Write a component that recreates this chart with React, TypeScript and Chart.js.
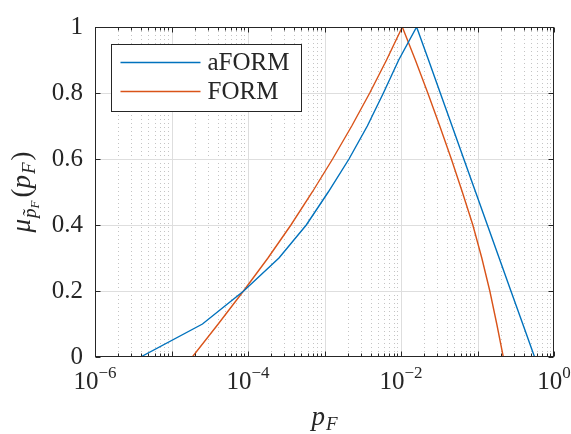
import React, { useEffect, useRef } from "react";
import { Chart, registerables } from "chart.js";

Chart.register(...registerables);

// membership levels (alpha-cuts)
const levelsUp = [0, 0.1, 0.2, 0.3, 0.4, 0.5, 0.6, 0.7, 0.8, 0.9, 1];
const levelsDown = [0.9, 0.8, 0.7, 0.6, 0.5, 0.4, 0.3, 0.2, 0.1, 0];

// aFORM: left (rising) branch and right (falling) branch of p_F
const aformLeft = [3.94e-6, 2.54e-5, 8.77e-5, 2.54e-4, 5.78e-4, 1.12e-3, 2.09e-3, 3.63e-3, 5.89e-3, 9.33e-3, 1.6e-2];
const aformRight = [2.29e-2, 3.26e-2, 4.65e-2, 6.62e-2, 9.44e-2, 0.1346, 0.1919, 0.2735, 0.3908, 0.557];

// FORM
const formLeft = [1.87e-5, 4.08e-5, 8.73e-5, 1.824e-4, 3.64e-4, 6.93e-4, 1.276e-3, 2.27e-3, 3.9e-3, 6.47e-3, 1.04e-2];
const formRight = [1.54e-2, 2.24e-2, 3.21e-2, 4.55e-2, 6.33e-2, 8.69e-2, 0.1138, 0.1449, 0.1786, 0.2173];

const seriesLabels = ["aFORM", "FORM"];
const seriesColors = ["#0072BD", "#D95319"];

// x tick labels: 10^exponent
const xTickValues = [1e-6, 1e-4, 1e-2, 1];
const xTickExponents = ["\u22126", "\u22124", "\u22122", "0"];
const xMin = 1e-6;
const xMax = 1;

const FONT = "'Liberation Serif', 'Times New Roman', serif";
const TEXT = "#262626";

type Run = { t: string; size: number; italic?: boolean; dy?: number; gap?: number };

function runsWidth(ctx: CanvasRenderingContext2D, runs: Run[]) {
  let w = 0;
  for (const r of runs) {
    ctx.font = `${r.italic ? "italic " : ""}${r.size}px ${FONT}`;
    w += ctx.measureText(r.t).width + (r.gap || 0);
  }
  return w;
}

function drawRuns(ctx: CanvasRenderingContext2D, runs: Run[], x: number, y: number) {
  let cx = x;
  for (const r of runs) {
    ctx.font = `${r.italic ? "italic " : ""}${r.size}px ${FONT}`;
    ctx.fillText(r.t, cx, y + (r.dy || 0));
    cx += ctx.measureText(r.t).width + (r.gap || 0);
  }
}

function buildPoints(left: number[], right: number[]) {
  const pts = left.map((v, i) => ({ x: v, y: levelsUp[i] }));
  right.forEach((v, i) => pts.push({ x: v, y: levelsDown[i] }));
  return pts;
}

const decorPlugin = {
  id: "decor",
  beforeDatasetsDraw(chart: any) {
    const { ctx, chartArea: ca, scales } = chart;
    const x = scales.x;
    const y = scales.y;
    ctx.save();
    ctx.lineWidth = 1;
    // minor vertical grid (dotted)
    ctx.strokeStyle = "#c4c4c4";
    ctx.setLineDash([1, 3]);
    const lx = Math.log10(xMin);
    const hx = Math.log10(xMax);
    for (let e = lx; e < hx; e++) {
      for (let m = 2; m <= 9; m++) {
        const px = Math.round(x.getPixelForValue(m * Math.pow(10, e))) + 0.5;
        ctx.beginPath();
        ctx.moveTo(px, ca.top);
        ctx.lineTo(px, ca.bottom);
        ctx.stroke();
      }
    }
    // major grid
    ctx.setLineDash([]);
    ctx.strokeStyle = "#dedede";
    for (let e = lx + 1; e < hx; e++) {
      const px = Math.round(x.getPixelForValue(Math.pow(10, e))) + 0.5;
      ctx.beginPath();
      ctx.moveTo(px, ca.top);
      ctx.lineTo(px, ca.bottom);
      ctx.stroke();
    }
    y.ticks.forEach((t: any) => {
      if (t.value <= y.min || t.value >= y.max) return;
      const py = Math.round(y.getPixelForValue(t.value)) + 0.5;
      ctx.beginPath();
      ctx.moveTo(ca.left, py);
      ctx.lineTo(ca.right, py);
      ctx.stroke();
    });
    ctx.restore();
  },
  afterDatasetsDraw(chart: any) {
    const { ctx, chartArea: ca, scales } = chart;
    const x = scales.x;
    const y = scales.y;
    ctx.save();
    ctx.strokeStyle = TEXT;
    ctx.lineWidth = 1;
    const L = Math.round(ca.left) + 0.5;
    const R = Math.round(ca.right) - 0.5;
    const T = Math.round(ca.top) + 0.5;
    const B = Math.round(ca.bottom) - 0.5;
    // ticks
    ctx.beginPath();
    y.ticks.forEach((t: any) => {
      const py = Math.round(y.getPixelForValue(t.value)) + 0.5;
      ctx.moveTo(L, py);
      ctx.lineTo(L + 5, py);
      ctx.moveTo(R, py);
      ctx.lineTo(R - 5, py);
    });
    const lx = Math.log10(xMin);
    const hx = Math.log10(xMax);
    for (let e = lx; e <= hx; e++) {
      const px = Math.round(x.getPixelForValue(Math.pow(10, e))) + 0.5;
      ctx.moveTo(px, B);
      ctx.lineTo(px, B - 5);
      ctx.moveTo(px, T);
      ctx.lineTo(px, T + 5);
      if (e < hx) {
        for (let m = 2; m <= 9; m++) {
          const mx = Math.round(x.getPixelForValue(m * Math.pow(10, e))) + 0.5;
          ctx.moveTo(mx, B);
          ctx.lineTo(mx, B - 3);
          ctx.moveTo(mx, T);
          ctx.lineTo(mx, T + 3);
        }
      }
    }
    ctx.stroke();
    // box
    ctx.strokeRect(L, T, R - L, B - T);

    // x tick labels
    ctx.fillStyle = TEXT;
    ctx.textBaseline = "alphabetic";
    ctx.textAlign = "left";
    xTickValues.forEach((v, i) => {
      const runs: Run[] = [
        { t: "10", size: 25 },
        { t: xTickExponents[i], size: 17, dy: -11 },
      ];
      const w = runsWidth(ctx, runs);
      const px = x.getPixelForValue(v);
      drawRuns(ctx, runs, px - w / 2, 389);
    });

    // x title p_F
    const xt: Run[] = [
      { t: "p", size: 27, italic: true, gap: 1 },
      { t: "F", size: 19, italic: true, dy: 5 },
    ];
    const xtw = runsWidth(ctx, xt);
    drawRuns(ctx, xt, (ca.left + ca.right) / 2 - xtw / 2, 425);

    // y title mu_{p~_F}(p_F)
    ctx.save();
    ctx.translate(30, (ca.top + ca.bottom) / 2);
    ctx.rotate(-Math.PI / 2);
    const yt: Run[] = [
      { t: "\u03bc", size: 27, italic: true, gap: 1 },
      { t: "p\u0303", size: 19, italic: true, dy: 6 },
      { t: "F", size: 13, italic: true, dy: 9, gap: 3 },
      { t: "(", size: 27 },
      { t: "p", size: 27, italic: true, gap: 1 },
      { t: "F", size: 19, italic: true, dy: 5, gap: 2 },
      { t: ")", size: 27 },
    ];
    const ytw = runsWidth(ctx, yt);
    drawRuns(ctx, yt, -ytw / 2, 0);
    ctx.restore();

    // legend
    const lgL = Math.round(ca.left + 16) + 0.5;
    const lgT = Math.round(ca.top + 17) + 0.5;
    const lgW = 190;
    const lgH = 67;
    ctx.fillStyle = "#ffffff";
    ctx.fillRect(lgL, lgT, lgW, lgH);
    ctx.strokeStyle = TEXT;
    ctx.lineWidth = 1;
    ctx.strokeRect(lgL, lgT, lgW, lgH);
    chart.data.datasets.forEach((ds: any, i: number) => {
      const ly = lgT + 18 + i * 29;
      ctx.strokeStyle = ds.borderColor;
      ctx.lineWidth = 1.4;
      ctx.beginPath();
      ctx.moveTo(lgL + 9, ly);
      ctx.lineTo(lgL + 89, ly);
      ctx.stroke();
      ctx.fillStyle = TEXT;
      ctx.font = `25px ${FONT}`;
      ctx.textBaseline = "middle";
      ctx.fillText(ds.label, lgL + 96, ly + 1);
    });
    ctx.restore();
  },
};

export default function App() {
  const ref = useRef<HTMLCanvasElement | null>(null);
  useEffect(() => {
    if (!ref.current) return;
    const chart = new Chart(ref.current, {
      type: "scatter",
      data: {
        datasets: [
          {
            label: seriesLabels[0],
            data: buildPoints(aformLeft, aformRight),
            borderColor: seriesColors[0],
            backgroundColor: seriesColors[0],
            borderWidth: 1.4,
            showLine: true,
            pointRadius: 0,
            tension: 0,
            fill: false,
          },
          {
            label: seriesLabels[1],
            data: buildPoints(formLeft, formRight),
            borderColor: seriesColors[1],
            backgroundColor: seriesColors[1],
            borderWidth: 1.4,
            showLine: true,
            pointRadius: 0,
            tension: 0,
            fill: false,
          },
        ],
      },
      options: {
        animation: false,
        responsive: false,
        maintainAspectRatio: false,
        devicePixelRatio: 1,
        layout: { padding: { left: 0, right: 17, top: 16, bottom: 0 } },
        plugins: { legend: { display: false }, tooltip: { enabled: false } },
        scales: {
          x: {
            type: "logarithmic",
            min: xMin,
            max: xMax,
            grid: { display: false, drawTicks: false },
            border: { display: false },
            ticks: { display: false },
            afterFit: (s: any) => {
              s.height = 77;
            },
          },
          y: {
            type: "linear",
            min: 0,
            max: 1,
            grid: { display: false, drawTicks: false },
            border: { display: false },
            ticks: {
              stepSize: 0.2,
              padding: 12,
              color: TEXT,
              font: { family: FONT, size: 25 },
              callback: (v: any) => String(Number(Number(v).toFixed(1))),
            },
            afterFit: (s: any) => {
              s.width = 95;
            },
          },
        },
      },
      plugins: [decorPlugin],
    } as any);
    return () => chart.destroy();
  }, []);
  return (
    <div style={{ position: "absolute", left: 0, top: 0, width: 571, height: 434, background: "#fff" }}>
      <canvas ref={ref} width={571} height={434} style={{ display: "block", width: 571, height: 434 }} />
    </div>
  );
}
